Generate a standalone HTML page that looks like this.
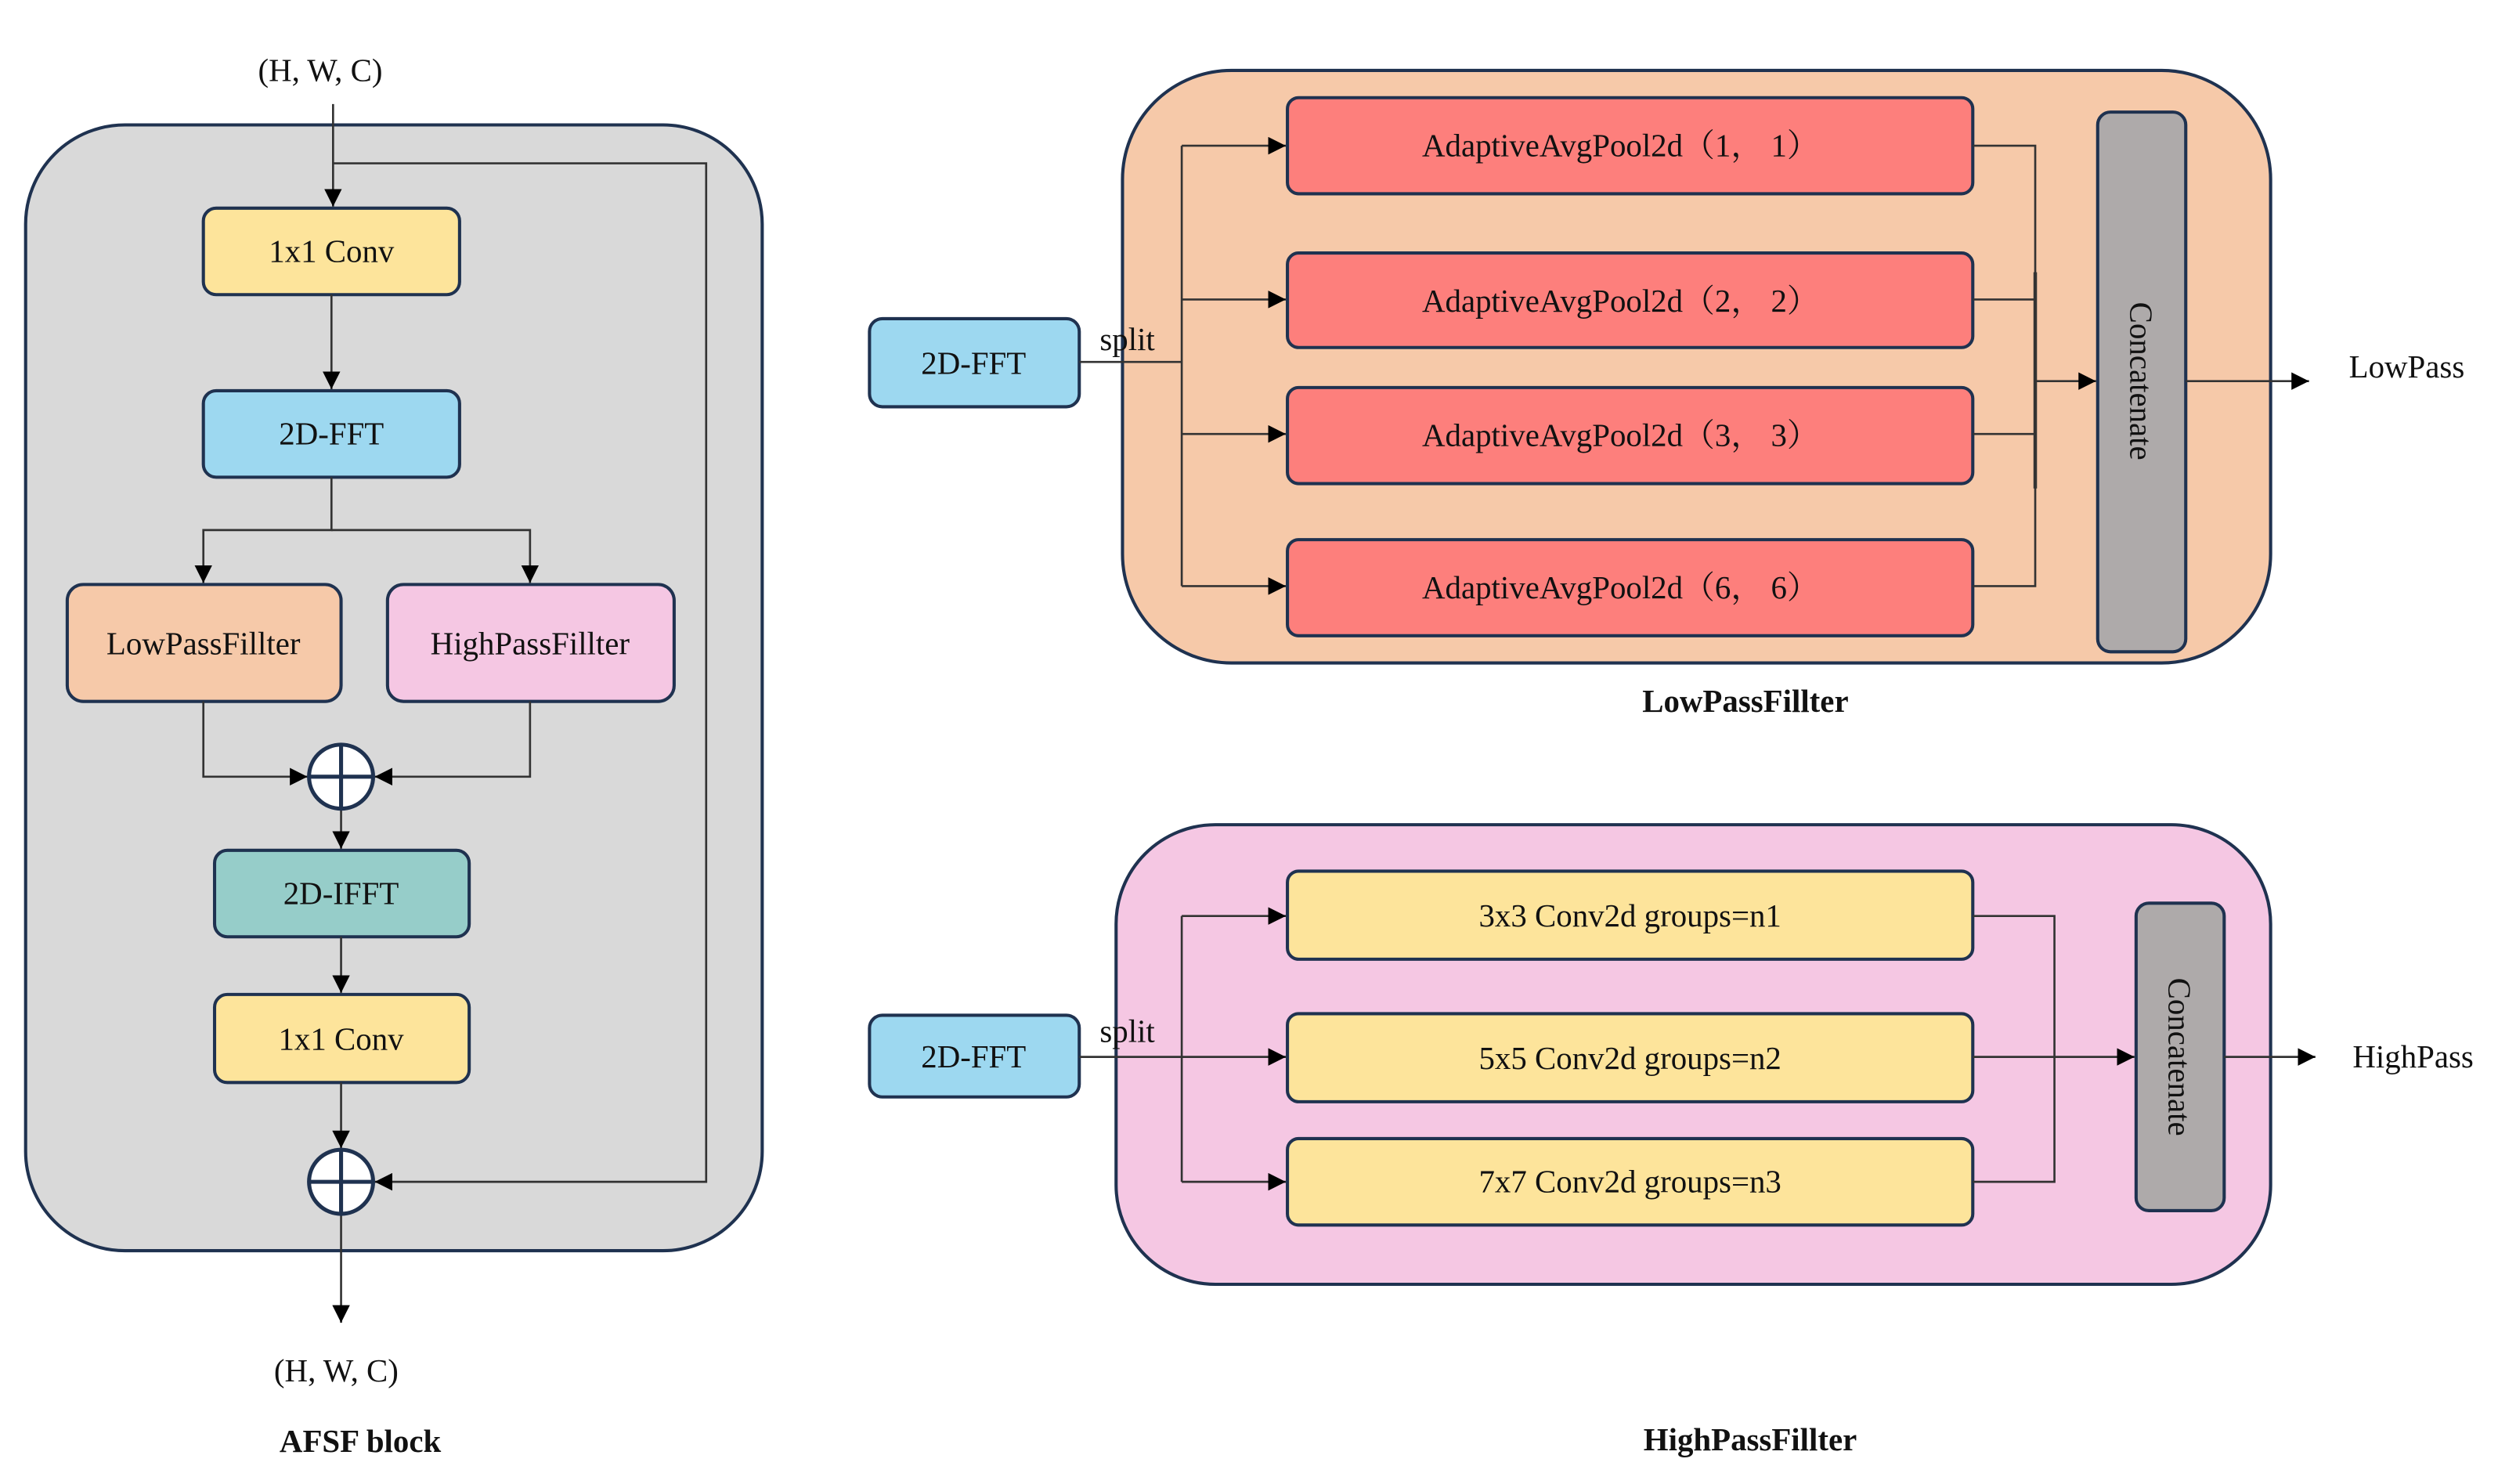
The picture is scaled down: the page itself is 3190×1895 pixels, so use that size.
<!DOCTYPE html>
<html><head><meta charset="utf-8"><style>
html,body{margin:0;padding:0;background:#fff}
svg{display:block}
text{font-family:"Liberation Serif","Noto Serif CJK SC",serif;fill:#111}
</style></head><body>
<svg width="3190" height="1895" viewBox="0 0 1560 926.7" preserveAspectRatio="none" xmlns="http://www.w3.org/2000/svg">
<defs>
<marker id="a" viewBox="0 0 10 10" refX="10" refY="5" markerWidth="11" markerHeight="11" markerUnits="userSpaceOnUse" orient="auto"><path d="M0,0 L10,5 L0,10 z" fill="#000"/></marker>
</defs>
<g stroke="#1f3250" stroke-width="2">
<!-- left panel -->
<rect x="16" y="78" width="460" height="703" rx="62" fill="#d9d9d9"/>
<rect x="127" y="130" width="160" height="54" rx="8" fill="#fde49b"/>
<rect x="127" y="244" width="160" height="54" rx="8" fill="#9dd8f0"/>
<rect x="42" y="365" width="171" height="73" rx="10" fill="#f6c9a9"/>
<rect x="242" y="365" width="179" height="73" rx="10" fill="#f5c7e3"/>
<rect x="134" y="531" width="159" height="54" rx="8" fill="#96cdc9"/>
<rect x="134" y="621" width="159" height="55" rx="8" fill="#fde49b"/>
<!-- top right -->
<rect x="701" y="44" width="717" height="370" rx="68" fill="#f6c9a9"/>
<rect x="543" y="199" width="131" height="55" rx="8" fill="#9dd8f0"/>
<rect x="804" y="61" width="428" height="60" rx="7" fill="#fd7f7c"/>
<rect x="804" y="158" width="428" height="59" rx="7" fill="#fd7f7c"/>
<rect x="804" y="242" width="428" height="60" rx="7" fill="#fd7f7c"/>
<rect x="804" y="337" width="428" height="60" rx="7" fill="#fd7f7c"/>
<rect x="1310" y="70" width="55" height="337" rx="8" fill="#aeaaaa"/>
<!-- bottom right -->
<rect x="697" y="515" width="721" height="287" rx="62" fill="#f5c7e3"/>
<rect x="543" y="634" width="131" height="51" rx="8" fill="#9dd8f0"/>
<rect x="804" y="544" width="428" height="55" rx="7" fill="#fde49b"/>
<rect x="804" y="633" width="428" height="55" rx="7" fill="#fde49b"/>
<rect x="804" y="711" width="428" height="54" rx="7" fill="#fde49b"/>
<rect x="1334" y="564" width="55" height="192" rx="8" fill="#aeaaaa"/>
</g>
<g stroke="#333" stroke-width="1.3" fill="none">
<line x1="208" y1="65" x2="208" y2="129" marker-end="url(#a)"/>
<polyline points="208,102 441,102 441,738 234,738" marker-end="url(#a)"/>
<line x1="207" y1="184" x2="207" y2="243" marker-end="url(#a)"/>
<polyline points="207,298 207,331 127,331 127,364" marker-end="url(#a)"/>
<polyline points="207,331 331,331 331,364" marker-end="url(#a)"/>
<polyline points="127,438 127,485 192,485" marker-end="url(#a)"/>
<polyline points="331,438 331,485 234,485" marker-end="url(#a)"/>
<line x1="213" y1="505" x2="213" y2="530" marker-end="url(#a)"/>
<line x1="213" y1="585" x2="213" y2="620" marker-end="url(#a)"/>
<line x1="213" y1="676" x2="213" y2="717" marker-end="url(#a)"/>
<line x1="213" y1="758" x2="213" y2="826" marker-end="url(#a)"/>
<!-- top right -->
<line x1="674" y1="226" x2="738" y2="226"/>
<line x1="738" y1="91" x2="738" y2="366"/>
<line x1="738" y1="91" x2="803" y2="91" marker-end="url(#a)"/>
<line x1="738" y1="187" x2="803" y2="187" marker-end="url(#a)"/>
<line x1="738" y1="271" x2="803" y2="271" marker-end="url(#a)"/>
<line x1="738" y1="366" x2="803" y2="366" marker-end="url(#a)"/>
<polyline points="1232,91 1271,91 1271,366 1232,366"/>
<line x1="1232" y1="187" x2="1271" y2="187"/>
<line x1="1232" y1="271" x2="1271" y2="271"/>
<line x1="1271" y1="170" x2="1271" y2="305" stroke-width="2.2"/>
<line x1="1271" y1="238" x2="1309" y2="238" marker-end="url(#a)"/>
<line x1="1365" y1="238" x2="1442" y2="238" marker-end="url(#a)"/>
<!-- bottom right -->
<line x1="674" y1="660" x2="803" y2="660" marker-end="url(#a)"/>
<line x1="738" y1="572" x2="738" y2="738"/>
<line x1="738" y1="572" x2="803" y2="572" marker-end="url(#a)"/>
<line x1="738" y1="738" x2="803" y2="738" marker-end="url(#a)"/>
<polyline points="1232,572 1283,572 1283,738 1232,738"/>
<line x1="1232" y1="660" x2="1333" y2="660" marker-end="url(#a)"/>
<line x1="1389" y1="660" x2="1446" y2="660" marker-end="url(#a)"/>
</g>
<g stroke="#1f3250" stroke-width="2.5" fill="#fff">
<circle cx="213" cy="485" r="20"/>
<line x1="193" y1="485" x2="233" y2="485"/><line x1="213" y1="465" x2="213" y2="505"/>
<circle cx="213" cy="738" r="20"/>
<line x1="193" y1="738" x2="233" y2="738"/><line x1="213" y1="718" x2="213" y2="758"/>
</g>
<g font-size="20" text-anchor="middle" dominant-baseline="central">
<text x="200" y="44">(H, W, C)</text>
<text x="207" y="157">1x1 Conv</text>
<text x="207" y="271">2D-FFT</text>
<text x="127" y="402">LowPassFillter</text>
<text x="331" y="402">HighPassFillter</text>
<text x="213" y="558">2D-IFFT</text>
<text x="213" y="649">1x1 Conv</text>
<text x="210" y="856">(H, W, C)</text>
<text x="225" y="900" font-weight="bold">AFSF block</text>
<text x="608" y="227">2D-FFT</text>
<text x="704" y="212">split</text>
<text x="1012" y="91">AdaptiveAvgPool2d（1， 1）</text>
<text x="1012" y="188">AdaptiveAvgPool2d（2， 2）</text>
<text x="1012" y="272">AdaptiveAvgPool2d（3， 3）</text>
<text x="1012" y="367">AdaptiveAvgPool2d（6， 6）</text>
<text x="1337" y="238" transform="rotate(90 1337 238)">Concatenate</text>
<text x="1503" y="229">LowPass</text>
<text x="1090" y="438" font-weight="bold">LowPassFillter</text>
<text x="608" y="660">2D-FFT</text>
<text x="704" y="644">split</text>
<text x="1018" y="572">3x3 Conv2d groups=n1</text>
<text x="1018" y="661">5x5 Conv2d groups=n2</text>
<text x="1018" y="738">7x7 Conv2d groups=n3</text>
<text x="1361" y="660" transform="rotate(90 1361 660)">Concatenate</text>
<text x="1507" y="660">HighPass</text>
<text x="1093" y="899" font-weight="bold">HighPassFillter</text>
</g>
</svg>
</body></html>
